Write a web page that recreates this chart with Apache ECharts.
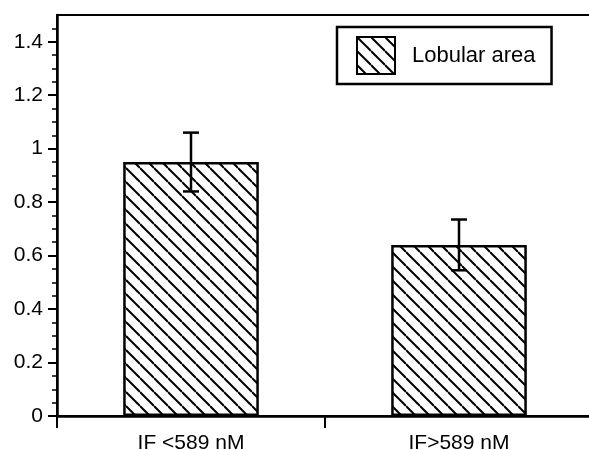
<!DOCTYPE html>
<html>
<head>
<meta charset="utf-8">
<script src="https://cdn.jsdelivr.net/npm/echarts@6/dist/echarts.min.js"></script>
<style>
  html, body { margin: 0; padding: 0; background: #fff; }
  #chart { width: 589px; height: 450px; }
</style>
</head>
<body>
<div id="chart"></div>
<script>
// Mean lobular area per group, with error half-widths
const categories = ['IF <589 nM', 'IF>589 nM'];
const seriesName = 'Lobular area';
const meanValues = [0.95, 0.64];
const errorValues = [0.11, 0.095];
const yMajorTicks = [0, 0.2, 0.4, 0.6, 0.8, 1, 1.2, 1.4];
const yMinorTicks = [0.05, 0.1, 0.15, 0.25, 0.3, 0.35, 0.45, 0.5, 0.55, 0.65, 0.7, 0.75,
  0.85, 0.9, 0.95, 1.05, 1.1, 1.15, 1.25, 1.3, 1.35, 1.45];

const FONT = "'Liberation Sans', Arial, Helvetica, sans-serif";

// Diagonal "\" hatch tile
function makeHatch(size, lw) {
  const c = document.createElement('canvas');
  c.width = size; c.height = size;
  const g = c.getContext('2d');
  g.fillStyle = '#fff';
  g.fillRect(0, 0, size, size);
  g.strokeStyle = '#000';
  g.lineWidth = lw;
  [-size, 0, size].forEach(function (k) {
    g.beginPath();
    g.moveTo(0, k);
    g.lineTo(size, size + k);
    g.stroke();
  });
  return c;
}
const hatch = { image: makeHatch(14, 2), repeat: 'repeat' };

const errorData = meanValues.map(function (v, i) {
  return [i, v - errorValues[i], v + errorValues[i]];
});

const chart = echarts.init(document.getElementById('chart'), null, { renderer: 'canvas' });
chart.setOption({
  backgroundColor: '#fff',
  animation: false,
  grid: {
    left: 57, right: -4, top: 15, bottom: 34,
    show: true, borderColor: '#000', borderWidth: 2,
    outerBoundsMode: 'none', containLabel: false
  },
  legend: {
    data: [seriesName],
    left: 337, top: 27,
    orient: 'horizontal',
    padding: [9, 16, 9, 19],
    borderColor: '#000', borderWidth: 2.5,
    backgroundColor: '#fff',
    itemWidth: 38, itemHeight: 37,
    icon: 'rect',
    selectedMode: false,
    itemStyle: { borderColor: '#000', borderWidth: 2 },
    textStyle: { fontFamily: FONT, fontSize: 22, color: '#000', padding: [0, 0, 0, 12] }
  },
  xAxis: {
    type: 'category',
    data: categories,
    boundaryGap: true,
    axisLine: { lineStyle: { color: '#000', width: 2.5 } },
    axisTick: { show: true, length: 12, lineStyle: { color: '#000', width: 2 } },
    axisLabel: { fontFamily: FONT, fontSize: 21, color: '#000', margin: 17 },
    splitLine: { show: false }
  },
  yAxis: [{
    type: 'value',
    min: 0, max: 1.5,
    axisLine: { show: true, lineStyle: { color: '#000', width: 2.5 } },
    axisTick: { show: true, length: 9, customValues: yMajorTicks, lineStyle: { color: '#000', width: 2 } },
    axisLabel: { fontFamily: FONT, fontSize: 21, color: '#000', margin: 14, customValues: yMajorTicks },
    splitLine: { show: false }
  }, {
    type: 'value',
    min: 0, max: 1.5,
    position: 'left',
    axisLine: { show: false },
    axisTick: { show: true, length: 5, customValues: yMinorTicks, lineStyle: { color: '#000', width: 1.5 } },
    axisLabel: { show: false },
    splitLine: { show: false }
  }],
  series: [{
    name: seriesName,
    type: 'bar',
    data: meanValues,
    barWidth: '50.6%',
    itemStyle: { color: hatch, borderColor: '#000', borderWidth: 2.5 }
  }, {
    type: 'custom',
    name: 'error',
    data: errorData,
    z: 10,
    renderItem: function (params, api) {
      const x = api.value(0);
      const lo = api.coord([x, api.value(1)]);
      const hi = api.coord([x, api.value(2)]);
      const cap = 8;
      const st = { stroke: '#000', lineWidth: 2.5 };
      return {
        type: 'group',
        children: [
          { type: 'line', shape: { x1: lo[0], y1: lo[1], x2: hi[0], y2: hi[1] }, style: st },
          { type: 'line', shape: { x1: hi[0] - cap, y1: hi[1], x2: hi[0] + cap, y2: hi[1] }, style: st },
          { type: 'line', shape: { x1: lo[0] - cap, y1: lo[1], x2: lo[0] + cap, y2: lo[1] }, style: st }
        ]
      };
    }
  }]
});
</script>
</body>
</html>
